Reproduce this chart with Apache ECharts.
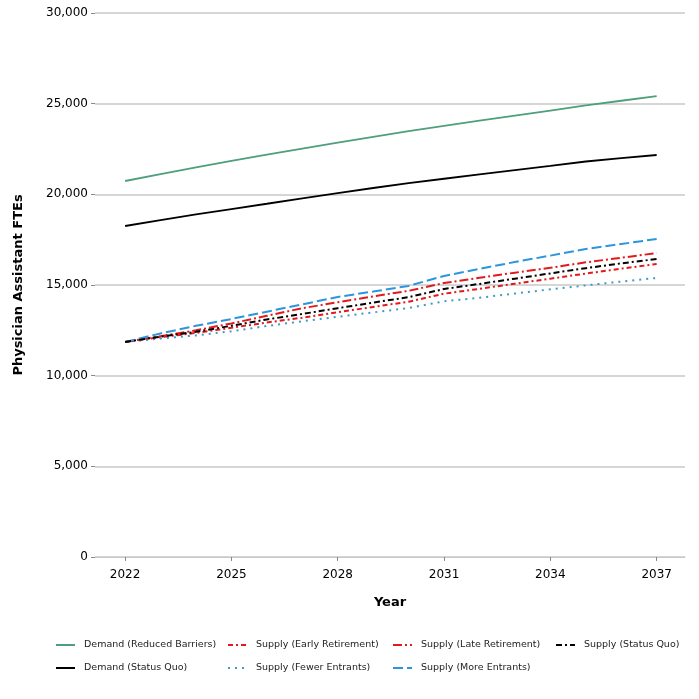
<!DOCTYPE html>
<html><head><meta charset="utf-8">
<script src="https://cdn.jsdelivr.net/npm/echarts@6/dist/echarts.min.js"></script>
<style>html,body{margin:0;padding:0;background:#fff}#c{width:699px;height:699px}</style>
</head><body><div id="c"></div>
<script>
const years = [2022,2023,2024,2025,2026,2027,2028,2029,2030,2031,2032,2033,2034,2035,2036,2037];
const xTicks = [2022,2025,2028,2031,2034,2037];
const demandReduced = [20735,21120,21490,21850,22190,22520,22850,23170,23480,23770,24060,24340,24620,24900,25160,25420];
const demandStatusQuo = [18254,18580,18890,19190,19480,19780,20070,20350,20620,20860,21100,21340,21570,21810,22000,22170];
const supplyEarly = [11860,12120,12360,12640,12930,13200,13500,13790,14080,14520,14790,15070,15350,15630,15900,16158];
const supplyFewer = [11860,12050,12220,12450,12740,13000,13250,13490,13730,14100,14300,14530,14760,14980,15190,15386];
const supplyLate = [11860,12180,12500,12880,13300,13720,14050,14370,14680,15110,15400,15680,15950,16250,16500,16765];
const supplyMore = [11860,12330,12750,13125,13530,13930,14340,14640,14950,15500,15890,16270,16620,16980,17260,17540];
const supplyStatusQuo = [11860,12150,12420,12750,13100,13400,13720,14030,14330,14780,15060,15350,15640,15930,16190,16434];

const pair = arr => years.map((y,i)=>[y,arr[i]]);
const mk = (name, arr, color, type, width) => ({
  name, type:'line', data: pair(arr), showSymbol:false, symbol:'none',
  lineStyle:{color, type, width}, itemStyle:{color}, emphasis:{disabled:true}
});
const series = [
  mk('Demand (Reduced Barriers)', demandReduced, '#4e9f7c', 'solid', 1.8),
  mk('Demand (Status Quo)', demandStatusQuo, '#000000', 'solid', 1.8),
  mk('Supply (Early Retirement)', supplyEarly, '#e3191c', [5,3,2,3], 2),
  mk('Supply (Fewer Entrants)', supplyFewer, '#3f9bc4', [2,5], 2),
  mk('Supply (Late Retirement)', supplyLate, '#e3191c', [9,3,2,3], 2),
  mk('Supply (More Entrants)', supplyMore, '#2d95dc', [10,4], 2),
  mk('Supply (Status Quo)', supplyStatusQuo, '#000000', [6,3,2,3], 2)
];
const legText = {fontSize:9.5, color:'#222', fontFamily:'DejaVu Sans', padding:[0,0,0,4]};
const leg = (left, names) => ({
  orient:'vertical', left, top:640, padding:0, itemWidth:19, itemHeight:8, itemGap:13,
  data:names, textStyle:legText, selectedMode:false,
  itemStyle:{opacity:0}
});
const chart = echarts.init(document.getElementById('c'));
chart.setOption({
  animation:false,
  backgroundColor:'#fff',
  grid:{left:95, right:14, top:13, bottom:142, containLabel:false},
  xAxis:{
    type:'value', min:2021.15, max:2037.8,
    name:'Year', nameLocation:'middle', nameGap:39,
    nameTextStyle:{fontSize:13, fontWeight:'bold', color:'#000', fontFamily:'DejaVu Sans'},
    axisLine:{show:true, lineStyle:{color:'#c8c8c8'}},
    axisTick:{show:true, customValues:xTicks, length:4, lineStyle:{color:'#888'}},
    axisLabel:{customValues:xTicks, formatter:v=>String(v), fontSize:12, color:'#000', margin:12, fontFamily:'DejaVu Sans'},
    splitLine:{show:false}
  },
  yAxis:{
    type:'value', min:0, max:30000, interval:5000,
    name:'Physician Assistant FTEs', nameLocation:'middle', nameGap:70, nameRotate:90,
    nameTextStyle:{fontSize:13, fontWeight:'bold', color:'#000', fontFamily:'DejaVu Sans'},
    axisLine:{show:false},
    axisTick:{show:true, length:4, lineStyle:{color:'#888'}},
    axisLabel:{formatter:v=>v.toLocaleString('en-US'), fontSize:12, color:'#000', margin:7, fontFamily:'DejaVu Sans'},
    splitLine:{show:true, lineStyle:{color:'#c8c8c8', width:1.5}}
  },
  legend:[
    leg(55, ['Demand (Reduced Barriers)','Demand (Status Quo)']),
    leg(227, ['Supply (Early Retirement)','Supply (Fewer Entrants)']),
    leg(392, ['Supply (Late Retirement)','Supply (More Entrants)']),
    leg(555, ['Supply (Status Quo)'])
  ],
  series
});
</script></body></html>
